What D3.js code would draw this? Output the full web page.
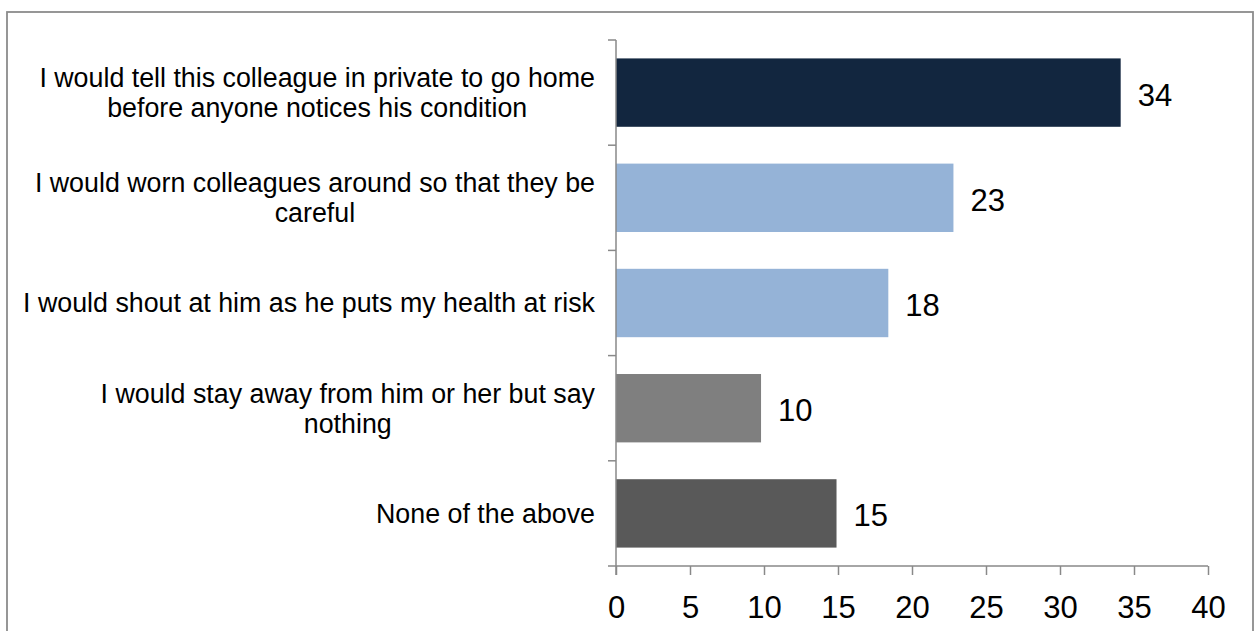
<!DOCTYPE html>
<html>
<head>
<meta charset="utf-8">
<script src="https://cdn.jsdelivr.net/npm/d3@7"></script>
<style>
  html, body { margin: 0; padding: 0; background: #fff; }
  svg { display: block; font-family: "Liberation Sans", Arial, sans-serif; }
</style>
</head>
<body>
<svg id="chart" width="1255" height="631"></svg>
<script>
// ---- data ----
const categories = [
  "I would tell this colleague in private to go home\nbefore anyone notices his condition",
  "I would worn colleagues around so that they be\ncareful",
  "I would shout at him as he puts my health at risk",
  "I would stay away from him or her but say\nnothing",
  "None of the above"
];
const values = [34.1, 22.8, 18.4, 9.8, 14.9];
const valueLabels = ["34", "23", "18", "10", "15"];
const xTicks = [0, 5, 10, 15, 20, 25, 30, 35, 40];
const barColors = ["#12263f", "#95b3d7", "#95b3d7", "#7f7f7f", "#595959"];

// ---- layout ----
const svg = d3.select("#chart");
const axisColor = "#898989";

// outer border
svg.append("rect")
  .attr("x", 7).attr("y", 12)
  .attr("width", 1246).attr("height", 640)
  .attr("fill", "none")
  .attr("stroke", "#8c8c8c")
  .attr("stroke-width", 1.8);

const x0 = 616, x1 = 1208, yTop = 40, yBot = 566;

const x = d3.scaleLinear().domain([0, 40]).range([x0, x1]);
const y = d3.scaleBand().domain(categories).range([yTop, yBot])
  .paddingInner(0.35).paddingOuter(0.175);

// bars
svg.append("g").selectAll("rect")
  .data(categories)
  .join("rect")
  .attr("x", x(0))
  .attr("y", d => y(d))
  .attr("width", (d, i) => x(values[i]) - x(0))
  .attr("height", y.bandwidth())
  .attr("fill", (d, i) => barColors[i]);

// value labels
svg.append("g").selectAll("text")
  .data(categories)
  .join("text")
  .attr("x", (d, i) => x(values[i]) + 17)
  .attr("y", d => y(d) + y.bandwidth() / 2 + 13)
  .attr("font-size", 31)
  .attr("fill", "#000")
  .text((d, i) => valueLabels[i]);

// x axis
const xAxis = d3.axisBottom(x).tickValues(xTicks).tickSize(9).tickPadding(21)
  .tickFormat(d3.format("d"));
const gx = svg.append("g").attr("transform", `translate(0,${yBot})`).call(xAxis);
gx.select(".domain").attr("stroke", axisColor).attr("stroke-width", 1.5)
  .attr("d", `M${x0},0H${x1}`);
gx.selectAll(".tick line").attr("stroke", axisColor).attr("stroke-width", 1.5);
gx.selectAll(".tick text").attr("font-size", 31).attr("fill", "#000")
  .attr("font-family", "'Liberation Sans', Arial, sans-serif")
  .attr("dy", "0.71em");

// y axis line and ticks at band boundaries
const gy = svg.append("g");
gy.append("line").attr("x1", x0).attr("x2", x0).attr("y1", yTop).attr("y2", yBot + 9)
  .attr("stroke", axisColor).attr("stroke-width", 1.5);
const boundaries = d3.range(categories.length + 1).map(i => yTop + i * (yBot - yTop) / categories.length);
gy.selectAll("line.tk").data(boundaries).join("line").attr("class", "tk")
  .attr("x1", x0 - 8).attr("x2", x0).attr("y1", d => d).attr("y2", d => d)
  .attr("stroke", axisColor).attr("stroke-width", 1.5);

// category labels (multi-line, centered block, right-aligned to axis)
const labelRight = 595;
const lineGap = 30;
const fs = 26.8;
categories.forEach((c, i) => {
  const lines = c.split("\n");
  const cy = y(c) + y.bandwidth() / 2;
  const g = svg.append("g");
  const texts = lines.map((ln, k) => g.append("text")
    .attr("font-size", fs).attr("fill", "#000")
    .attr("y", cy + (k - (lines.length - 1) / 2) * lineGap + fs * 0.35)
    .text(ln));
  const maxW = d3.max(texts, t => t.node().getComputedTextLength());
  const cx = labelRight - maxW / 2;
  texts.forEach(t => t.attr("x", cx).attr("text-anchor", "middle"));
});
</script>
</body>
</html>
